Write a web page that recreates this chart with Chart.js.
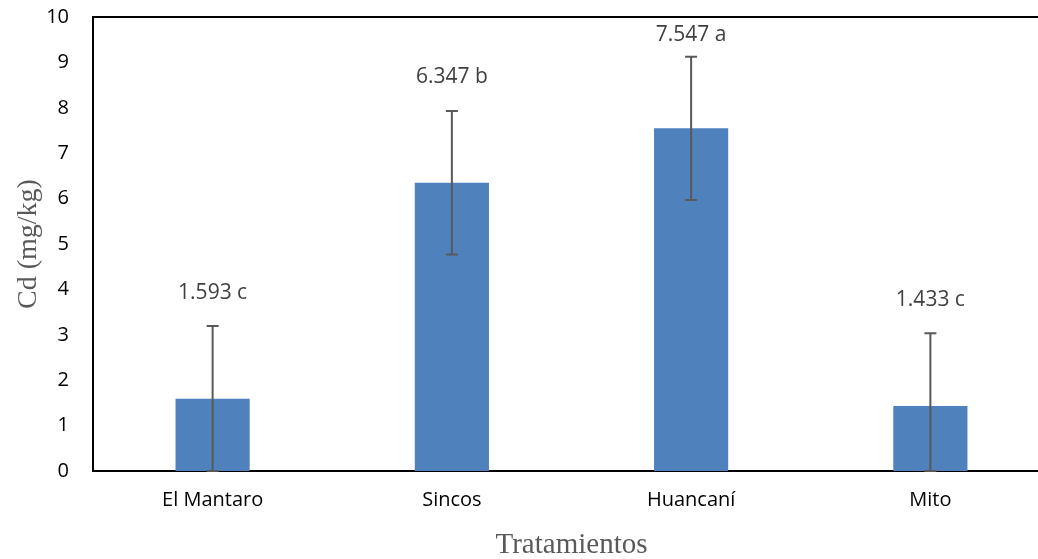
<!DOCTYPE html>
<html>
<head>
<meta charset="utf-8">
<script src="https://cdn.jsdelivr.net/npm/chart.js@4"></script>
<style>
  html, body { margin: 0; padding: 0; background: #fff; overflow: hidden; }
  #wrap { width: 1050px; height: 559px; }
</style>
</head>
<body>
<div id="wrap"><canvas id="myChart"></canvas></div>
<script>
var categories = ['El Mantaro', 'Sincos', 'Huancaní', 'Mito'];
var means = [1.593, 6.347, 7.547, 1.433];
var errors = [1.60, 1.58, 1.58, 1.60];
var letters = ['c', 'b', 'a', 'c'];

var errorBars = {
  id: 'errorBars',
  afterDatasetsDraw: function(chart) {
    var ctx = chart.ctx;
    var y = chart.scales.y;
    var meta = chart.getDatasetMeta(0);
    ctx.save();
    ctx.strokeStyle = '#595959';
    ctx.lineWidth = 2;
    meta.data.forEach(function(bar, i) {
      var top = y.getPixelForValue(means[i] + errors[i]);
      var bot = y.getPixelForValue(Math.max(0, means[i] - errors[i]));
      ctx.beginPath();
      ctx.moveTo(bar.x, top); ctx.lineTo(bar.x, bot);
      ctx.moveTo(bar.x - 6, top); ctx.lineTo(bar.x + 6, top);
      ctx.moveTo(bar.x - 6, bot); ctx.lineTo(bar.x + 6, bot);
      ctx.stroke();
    });
    // value labels
    ctx.fillStyle = '#404040';
    ctx.font = '21px "Open Sans", sans-serif';
    ctx.textAlign = 'center';
    ctx.textBaseline = 'middle';
    meta.data.forEach(function(bar, i) {
      var ly = Math.max(bar.y - 106, 35);
      ctx.fillText(means[i].toFixed(3) + ' ' + letters[i], bar.x, ly);
    });
    // top frame line
    var a = chart.chartArea;
    ctx.strokeStyle = '#000';
    ctx.lineWidth = 2;
    ctx.beginPath();
    ctx.moveTo(a.left, a.top); ctx.lineTo(a.right, a.top);
    ctx.stroke();
    ctx.restore();
  }
};

var ctx = document.getElementById('myChart').getContext('2d');
var myChart = new Chart(ctx, {
  type: 'bar',
  data: {
    labels: categories,
    datasets: [{
      data: means,
      backgroundColor: '#4f81bd',
      borderWidth: 0,
      categoryPercentage: 1,
      barPercentage: 0.31
    }]
  },
  options: {
    responsive: true,
    maintainAspectRatio: false,
    animation: false,
    layout: { padding: { top: 17, left: 0, right: 0, bottom: 0 } },
    plugins: {
      legend: { display: false },
      tooltip: { enabled: false }
    },
    scales: {
      x: {
        grid: { display: false, drawTicks: false },
        border: { color: '#000', width: 2 },
        ticks: { color: '#000', padding: 17, font: { size: 20, family: '"Open Sans", sans-serif' } },
        title: {
          display: true,
          text: 'Tratamientos',
          color: '#595959',
          font: { size: 29, family: '"Liberation Serif", serif' },
          padding: { top: 4, bottom: -4 }
        },
        afterFit: function(scale) { scale.height = 88; }
      },
      y: {
        min: 0,
        max: 10,
        grid: { display: false, drawTicks: false },
        border: { color: '#000', width: 2 },
        ticks: { stepSize: 1, color: '#000', padding: 24, font: { size: 20, family: '"Open Sans", sans-serif' } },
        title: {
          display: true,
          text: 'Cd (mg/kg)',
          color: '#595959',
          font: { size: 28, family: '"Liberation Serif", serif' },
          padding: { top: 12, bottom: 0 }
        },
        afterFit: function(scale) {
          scale.width = 93;
          scale.paddingTop = 0;
          scale.paddingBottom = 0;
        }
      }
    }
  },
  plugins: [errorBars]
});
</script>
</body>
</html>
